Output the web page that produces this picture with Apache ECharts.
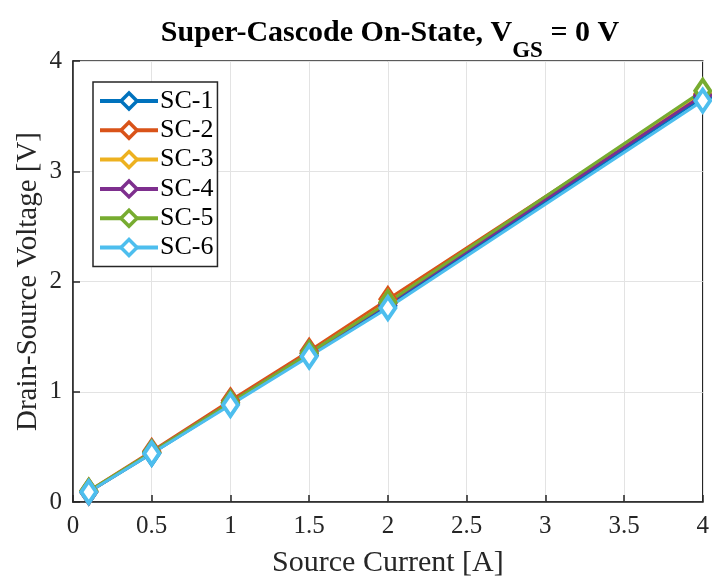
<!DOCTYPE html>
<html><head><meta charset="utf-8">
<script src="https://cdn.jsdelivr.net/npm/echarts@6/dist/echarts.min.js"></script>
<style>html,body{margin:0;padding:0;background:#fff}#c{width:712px;height:583px}</style>
</head><body><div id="c"></div>
<script>
const current = [0.1, 0.5, 1, 1.5, 2, 4];
const sc1 = [0.09, 0.44, 0.89, 1.33, 1.78, 3.67];
const sc2 = [0.10, 0.46, 0.92, 1.37, 1.84, 3.70];
const sc3 = [0.09, 0.45, 0.90, 1.35, 1.81, 3.70];
const sc4 = [0.09, 0.45, 0.90, 1.35, 1.80, 3.69];
const sc5 = [0.10, 0.45, 0.90, 1.35, 1.81, 3.73];
const sc6 = [0.09, 0.44, 0.88, 1.32, 1.76, 3.64];
const names = ['SC-1','SC-2','SC-3','SC-4','SC-5','SC-6'];
const values = [sc1, sc2, sc3, sc4, sc5, sc6];
const colors = ['#0072BD','#D95319','#EDB120','#7E2F8E','#77AC30','#4DBEEE'];
const xTicks = [0, 0.5, 1, 1.5, 2, 2.5, 3, 3.5, 4];
const yTicks = [0, 1, 2, 3, 4];

const font = 'Liberation Serif, Times New Roman, serif';
const chart = echarts.init(document.getElementById('c'));
chart.setOption({
  animation: false,
  title: {
    text: '{b|Super-Cascode On-State, V}{s|GS}{b| = 0 V}',
    left: 385, textAlign: 'center', top: 9,
    textStyle: {
      rich: {
        b: {fontFamily: font, fontWeight: 'bold', fontSize: 30, color: '#000', verticalAlign: 'bottom', lineHeight: 34},
        s: {fontFamily: font, fontWeight: 'bold', fontSize: 23, color: '#000', verticalAlign: 'bottom', padding: [0,0,-15,0], lineHeight: 34}
      }
    }
  },
  grid: {left: 73, right: 7, top: 61, bottom: 79, show: true, borderColor: '#262626', borderWidth: 1.5, backgroundColor: '#fff'},
  legend: {
    orient: 'vertical', left: 93, top: 82,
    backgroundColor: '#fff', borderColor: '#262626', borderWidth: 1.5,
    padding: [6, 4, 6, 5], itemGap: 3.3, itemWidth: 58, itemHeight: 20,
    textStyle: {fontFamily: font, fontSize: 26, color: '#000', padding: [0,0,0,-3]},
    lineStyle: {width: 4},
    itemStyle: {borderWidth: 3.5},
    data: names
  },
  xAxis: {
    type: 'value', min: 0, max: 4, interval: 0.5,
    name: 'Source Current [A]', nameLocation: 'middle', nameGap: 46, nameMoveOverlap: false,
    nameTextStyle: {fontFamily: font, fontSize: 30, color: '#262626'},
    axisLine: {lineStyle: {color: '#262626', width: 1.5}},
    axisTick: {inside: true, length: 7, lineStyle: {color: '#262626', width: 1.5}},
    axisLabel: {fontFamily: font, fontSize: 25, color: '#262626', margin: 12,
      formatter: v => xTicks.includes(v) ? String(v) : ''},
    splitLine: {show: true, lineStyle: {color: '#e3e3e3', width: 1}}
  },
  yAxis: {
    type: 'value', min: 0, max: 4, interval: 1,
    name: 'Drain-Source Voltage [V]', nameLocation: 'middle', nameGap: 30, nameMoveOverlap: false,
    nameTextStyle: {fontFamily: font, fontSize: 29, color: '#262626'},
    axisLine: {show: true, lineStyle: {color: '#262626', width: 1.5}},
    axisTick: {show: true, inside: true, length: 7, lineStyle: {color: '#262626', width: 1.5}},
    axisLabel: {fontFamily: font, fontSize: 25, color: '#262626', margin: 11,
      formatter: v => yTicks.includes(v) ? String(v) : ''},
    splitLine: {show: true, lineStyle: {color: '#e3e3e3', width: 1}}
  },
  series: names.map((n, i) => ({
    name: n, type: 'line',
    data: current.map((x, j) => [x, values[i][j]]),
    color: colors[i],
    lineStyle: {width: 3, color: colors[i]},
    symbol: 'diamond', symbolSize: [15, 22],
    itemStyle: {color: '#fff', borderColor: colors[i], borderWidth: 4},
    showSymbol: true
  }))
});
</script></body></html>
